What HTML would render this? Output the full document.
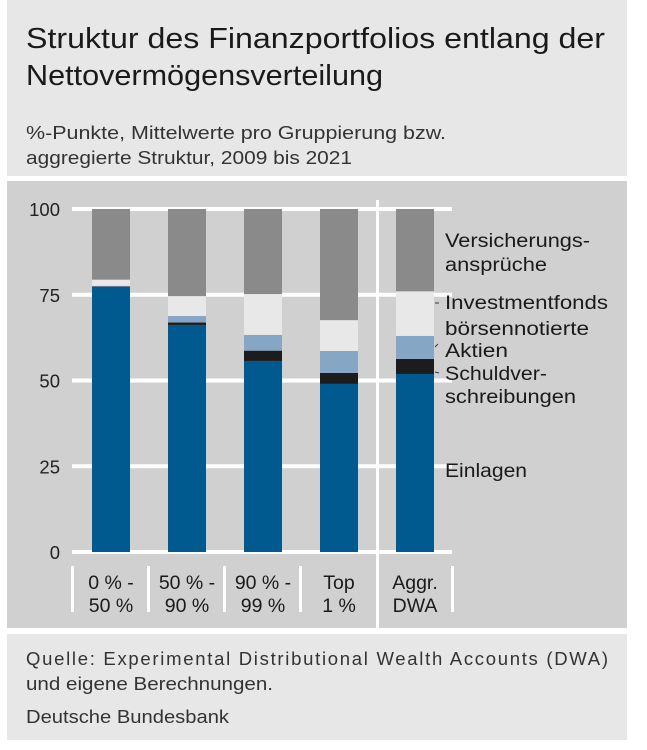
<!DOCTYPE html>
<html><head><meta charset="utf-8"><style>
body{margin:0;width:647px;height:750px;background:#fff;font-family:"Liberation Sans","DejaVu Sans",sans-serif;color:#222;overflow:hidden}
svg{display:block}
</style></head><body>
<svg width="647" height="750">
<rect x="7" y="0" width="620" height="176" fill="#e7e7e7"/>
<text x="26" y="48" font-size="28.5" fill="#1a1a1a" textLength="579" lengthAdjust="spacingAndGlyphs">Struktur des Finanzportfolios entlang der</text>
<text x="26" y="85" font-size="28.5" fill="#1a1a1a" textLength="357" lengthAdjust="spacingAndGlyphs">Nettovermögensverteilung</text>
<text x="26" y="139" font-size="18.5" fill="#333" textLength="420" lengthAdjust="spacingAndGlyphs">%-Punkte, Mittelwerte pro Gruppierung bzw.</text>
<text x="26" y="164" font-size="18.5" fill="#333" textLength="326" lengthAdjust="spacingAndGlyphs">aggregierte Struktur, 2009 bis 2021</text>
<rect x="7" y="181" width="620" height="447" fill="#d0d0d0"/>
<g id="grid"></g><g id="bars"></g><g id="labels"></g>
<rect x="7" y="634" width="620" height="106" fill="#e7e7e7"/>
<text x="26" y="665" font-size="18.5" fill="#333" textLength="582" lengthAdjust="spacing">Quelle: Experimental Distributional Wealth Accounts (DWA)</text>
<text x="26" y="690" font-size="18.5" fill="#333" textLength="247" lengthAdjust="spacingAndGlyphs">und eigene Berechnungen.</text>
<text x="26" y="723" font-size="18.5" fill="#333" textLength="203" lengthAdjust="spacingAndGlyphs">Deutsche Bundesbank</text>
</svg>
<script>
const categories=[["0 % -","50 %"],["50 % -","90 %"],["90 % -","99 %"],["Top","1 %"],["Aggr.","DWA"]];
const einlagen=[77.3,66.2,55.7,49.0,51.9];
const schuldverschreibungen=[0.1,0.7,3.0,3.2,4.4];
const aktien=[0.2,1.9,4.6,6.4,6.7];
const investmentfonds=[1.8,5.8,11.9,9.0,13.0];
const versicherung=[20.6,25.4,24.8,32.4,24.0];
const yTicks=[0,25,50,75,100];
const series=[einlagen,schuldverschreibungen,aktien,investmentfonds,versicherung];
const seriesNames=["einlagen","schuldverschreibungen","aktien","investmentfonds","versicherungsansprueche"];
const colors=["#005a8f","#1c1c1c","#86a6c6","#e8e8e8","#8a8a8a"];
const NS="http://www.w3.org/2000/svg";
const y=v=>552-v*3.43;
const x=i=>92+i*76;
function mk(t,a,p){const e=document.createElementNS(NS,t);for(const k in a)e.setAttribute(k,a[k]);p.appendChild(e);return e;}
const G=document.getElementById('grid'),B=document.getElementById('bars'),L=document.getElementById('labels');
yTicks.forEach(t=>{
 const l=mk('rect',{x:72,y:y(t)-2,width:380,height:4,fill:'#fff'},G);
 
 
 const tx=mk('text',{x:60,y:y(t)+7,'font-size':18.5,'text-anchor':'end',fill:'#222'},G);tx.textContent=t;
 
 
});
const dv=mk('rect',{x:376,y:200,width:3,height:428,fill:'#fff'},G);


[72,148,224,300,452].forEach(px=>{const s=mk('rect',{x:px-1,y:566,width:3,height:46,fill:'#fff'},G);
 
 });
categories.forEach((c,i)=>{
 let acc=0;
 series.forEach((s,j)=>{
  const r=mk('rect',{x:x(i),y:y(acc+s[i]),width:38,height:s[i]*3.43,fill:colors[j]},B);
  
  
  acc+=s[i];
 });
 c.forEach((t,k)=>{const tx=mk('text',{x:x(i)+19,y:589+k*23,'font-size':19.5,'text-anchor':'middle',fill:'#1a1a1a'},L);tx.textContent=t;
  
  });
});
const leg=[["Versicherungs-",247,145],["ansprüche",271,102],["Investmentfonds",309,163],["börsennotierte",335,144],["Aktien",357,63],["Schuldver-",380,102],["schreibungen",403,131],["Einlagen",477,82]];
leg.forEach(([t,yy,w])=>{const tx=mk('text',{x:445,y:yy,'font-size':19,fill:'#1a1a1a',textLength:w,lengthAdjust:'spacingAndGlyphs'},L);tx.textContent=t;
 
 });
[[435,303,439,303],[435,347,438,344],[435,372,439,373]].forEach(a=>{const l=mk('line',{x1:a[0],y1:a[1],x2:a[2],y2:a[3],stroke:'#333','stroke-width':1},L);
 
 });
</script>
</body></html>
